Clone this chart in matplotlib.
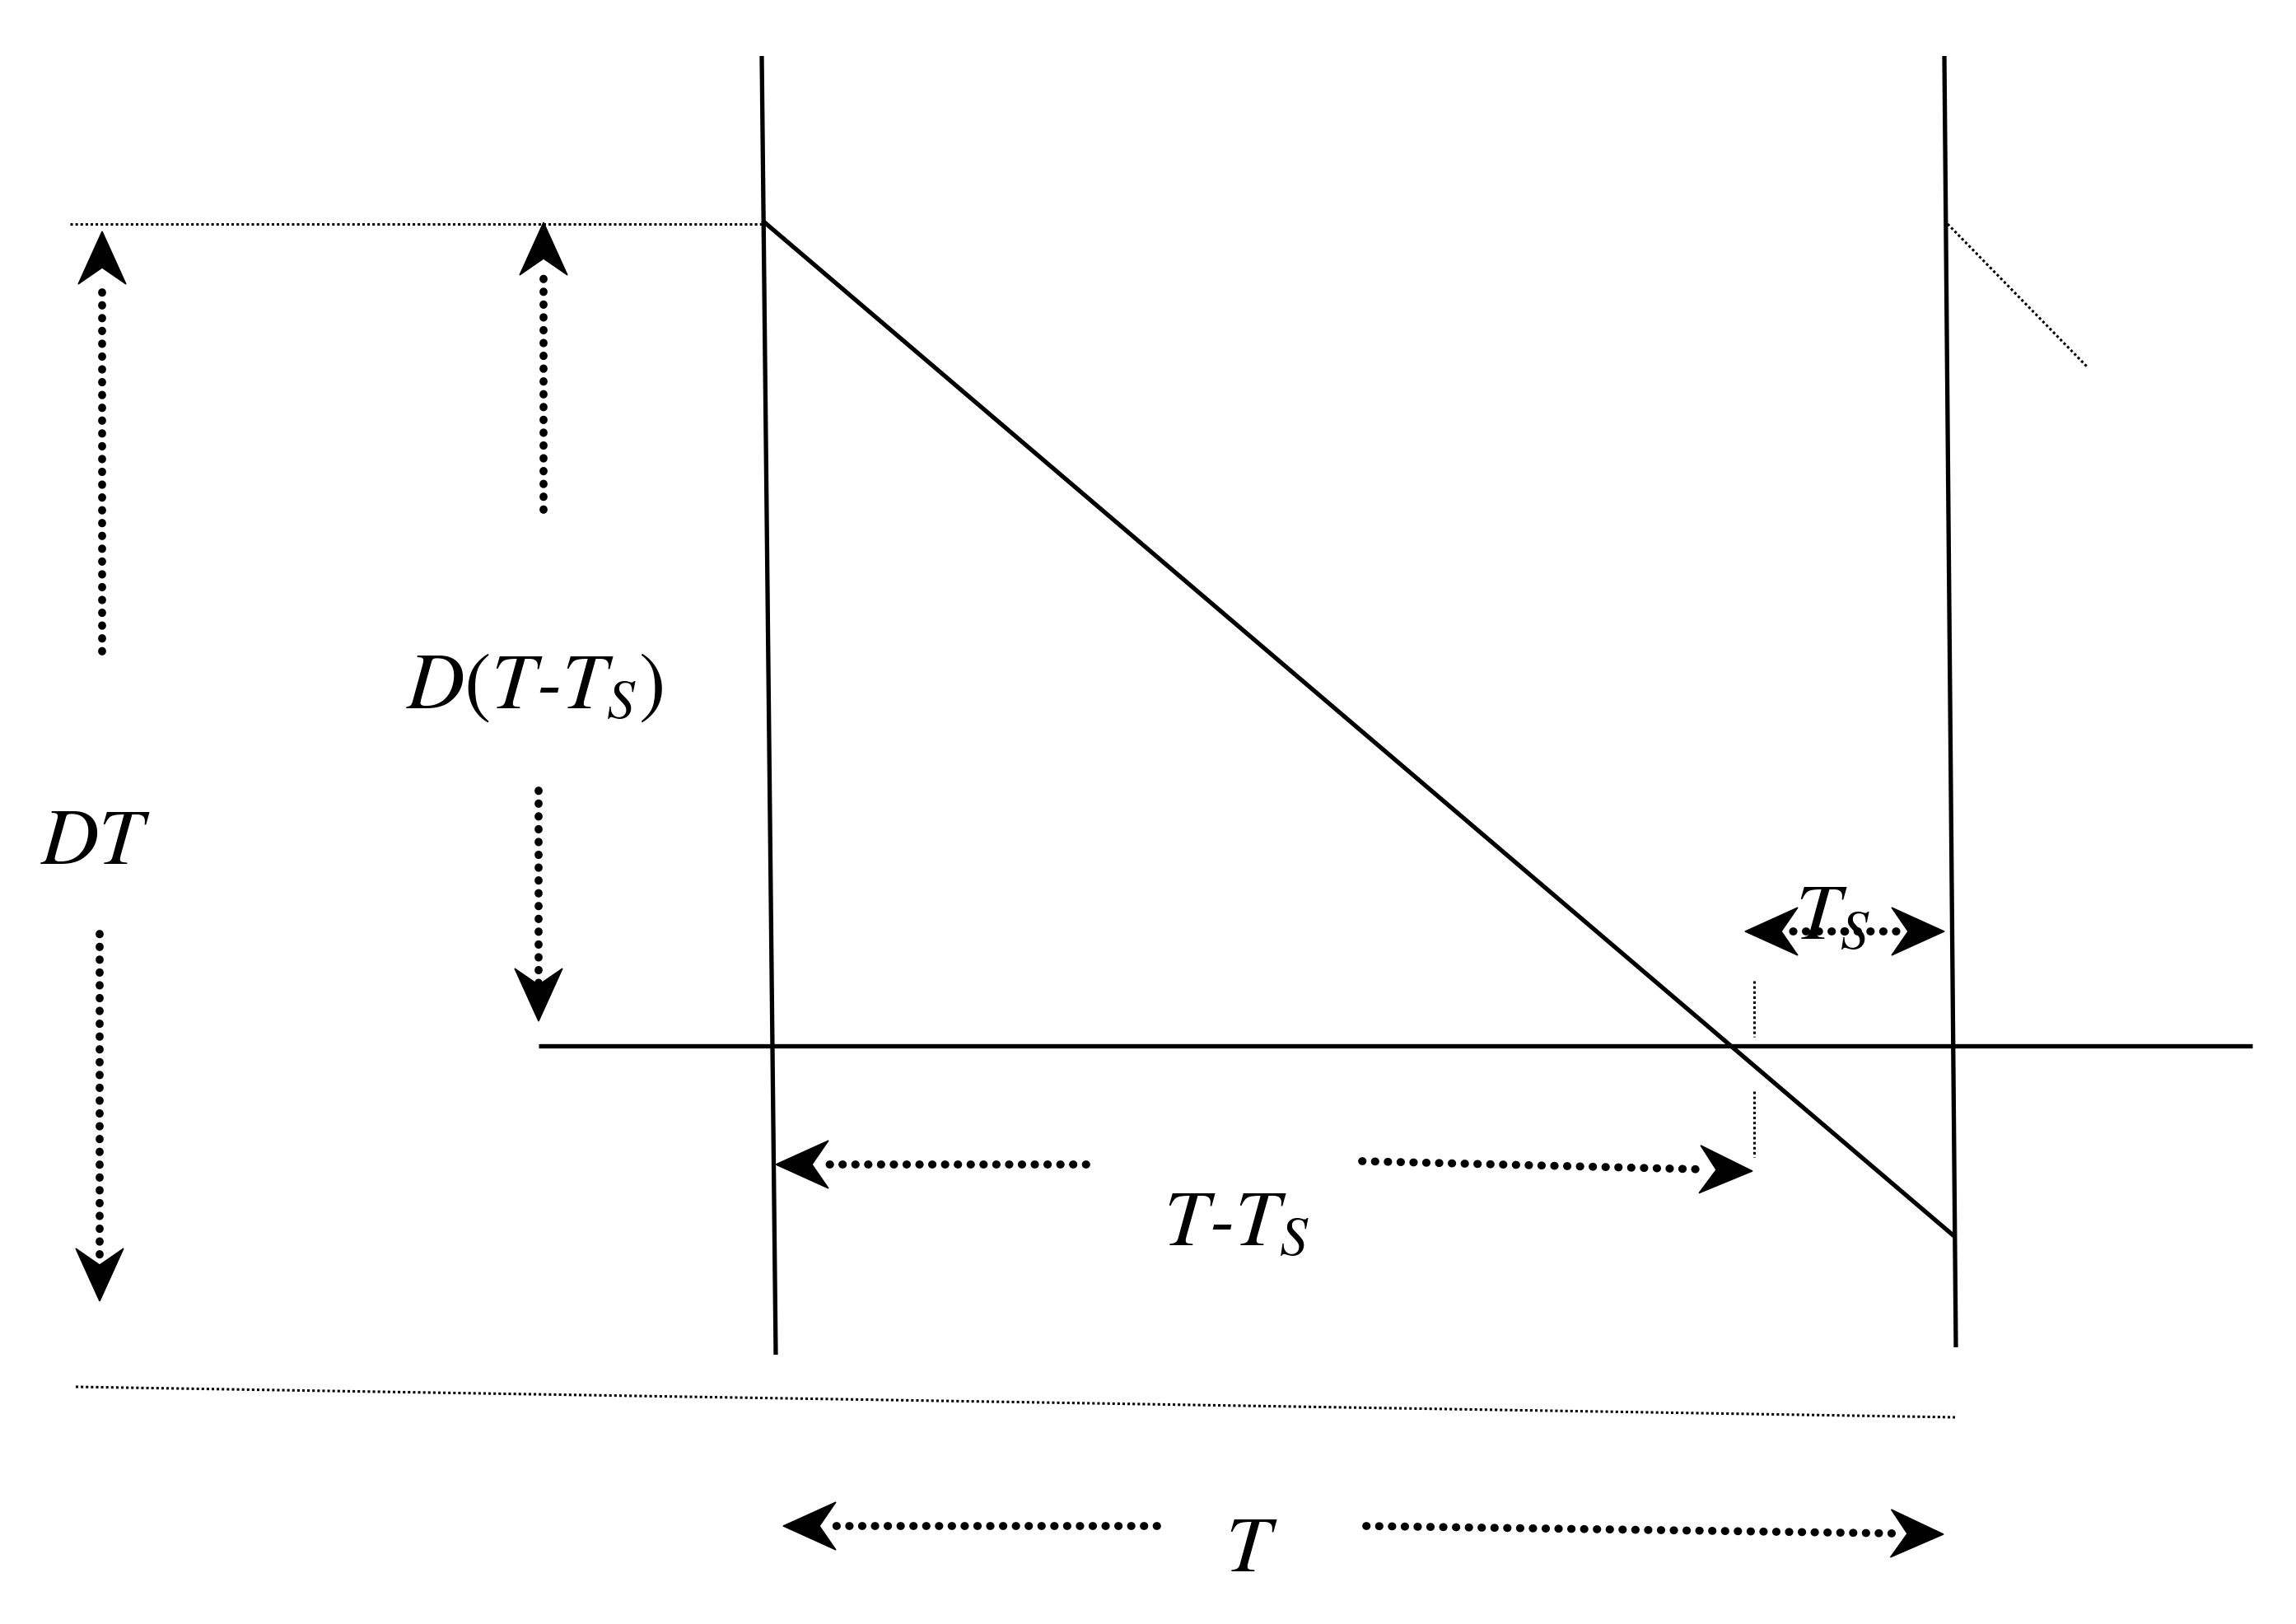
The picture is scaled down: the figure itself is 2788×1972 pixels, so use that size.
import matplotlib
matplotlib.use("Agg")
import matplotlib.pyplot as plt
from matplotlib.patches import Polygon
import numpy as np

plt.rcParams['mathtext.fontset'] = 'stix'
plt.rcParams['font.family'] = ['STIXGeneral', 'Liberation Serif', 'DejaVu Serif']

W_PX, H_PX = 2788, 1972

# ---- geometry of the diagram (pixel space of the figure) ----
solid_lines = [
    ([925, 942], [68, 1645]),      # left period boundary
    ([2361, 2375], [68, 1636]),    # right period boundary
    ([926, 2374], [268, 1502]),    # falling ramp
    ([654, 2735], [1270, 1270]),   # zero axis
]
thin_dotted_lines = [
    ([85, 925], [272, 272]),       # top level DT
    ([2365, 2534], [272, 445]),    # next ramp start
    ([92, 2374], [1684, 1721]),    # bottom level
    ([2130, 2130], [1191, 1259]),  # Ts marker upper
    ([2130, 2130], [1325, 1405]),  # Ts marker lower
]
# dotted arrows: (tail x, tail y, shaft end x, shaft end y, tip x, tip y)
arrows = [
    (124, 791, 124, 340, 124, 281),      # DT up
    (121, 1134, 121, 1530, 121, 1580),   # DT down
    (660, 619, 660, 325, 660, 270),      # D(T-Ts) up
    (654, 960, 654, 1195, 654, 1240),    # D(T-Ts) down
    (1319, 1414, 1000, 1414, 942, 1414), # T-Ts left
    (1654, 1410, 2070, 1420, 2128, 1422),# T-Ts right
    (2240, 1131, 2175, 1131, 2119, 1131),# Ts left
    (2240, 1131, 2305, 1131, 2361, 1131),# Ts right
    (1405, 1853, 1010, 1853, 951, 1853), # T left
    (1659, 1853, 2300, 1862, 2360, 1863),# T right
]
labels = [
    (116, 1026, r'$DT$'),
    (649, 836, r'$D(T$-$T_S)$'),
    (1502, 1490, r'$T$-$T_S$'),
    (2225, 1118, r'$T_S$'),
    (1520, 1885, r'$T$'),
]

fig = plt.figure(figsize=(W_PX / 100, H_PX / 100), dpi=100)
ax = fig.add_axes([0, 0, 1, 1])
ax.set_xlim(0, W_PX)
ax.set_ylim(H_PX, 0)
ax.axis('off')

for xs, ys in solid_lines:
    ax.plot(xs, ys, color='black', lw=3.8, solid_capstyle='butt')

for xs, ys in thin_dotted_lines:
    ax.plot(xs, ys, color='black', lw=2.2, linestyle=(0, (1, 1.0)))


def head(tx, ty, dx, dy, L=64, Wd=29, notch=20):
    n = np.hypot(dx, dy)
    ux, uy = dx / n, dy / n
    px, py = -uy, ux
    pts = [
        (tx, ty),
        (tx - L * ux + Wd * px, ty - L * uy + Wd * py),
        (tx - (L - notch) * ux, ty - (L - notch) * uy),
        (tx - L * ux - Wd * px, ty - L * uy - Wd * py),
    ]
    ax.add_patch(Polygon(pts, closed=True, facecolor='black', edgecolor='black', lw=1))


for x0, y0, x1, y1, tx, ty in arrows:
    ax.plot([x0, x1], [y0, y1], color='black', lw=7.0,
            linestyle=(0, (0.05, 1.55)), dash_capstyle='round')
    head(tx, ty, tx - x1, ty - y1)

for x, y, s in labels:
    ax.text(x, y, s, fontsize=70, ha='center', va='center', color='black',
            fontstyle='italic')

fig.savefig('out.png', dpi=100, facecolor='white')
